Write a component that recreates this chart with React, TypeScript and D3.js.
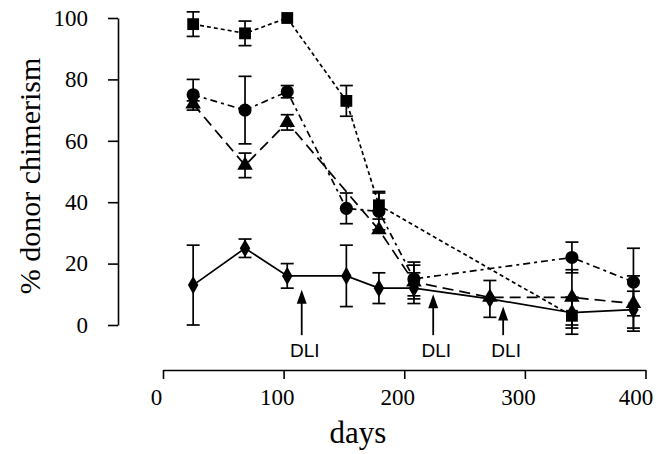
import React, { useRef, useEffect } from 'react';
import * as d3 from 'd3';

// days after transplant and % donor chimerism
const squareDays = [25, 68, 103, 152, 179, 339];
const squareVals = [98, 95, 100, 73, 39, 3];
const squareErr = [4, 4, 0, 5, 4.5, 6];

const circleDays = [25, 68, 103, 152, 179, 208, 339, 390];
const circleVals = [75, 70, 76, 38, 37, 15, 22, 14];
const circleErr = [5, 11, 2, 5, 6, 5.5, 5, 11];

const triangleDays = [25, 68, 103, 179, 208, 271, 339, 390];
const triangleVals = [72, 52, 66, 31, 14, 9, 9, 7];
const triangleErr = [1, 4, 2.5, 0, 5.5, 0, 9, 9];

const diamondDays = [25, 68, 103, 152, 179, 208, 271, 339, 390];
const diamondVals = [13, 25, 16, 16, 12, 12, 8.5, 4, 5];
const diamondErr = [13, 3, 4, 10, 5, 5, 6, 5, 6];

// DLI arrows: day, value at arrow tip
const dliDays = [115, 224, 282];
const dliTips = [11.5, 10, 6];

const xTicks = [0, 100, 200, 300, 400];
const yTicks = [0, 20, 40, 60, 80, 100];

const serif = '"Liberation Serif", "Times New Roman", serif';
const sans = '"Liberation Sans", Arial, sans-serif';

const App = () => {
  const svgRef = useRef<SVGSVGElement>(null);

  useEffect(() => {
    const width = 656;
    const height = 454;

    const svg = d3.select(svgRef.current)
      .attr('width', width)
      .attr('height', height);

    svg.selectAll('*').remove();

    const x = d3.scaleLinear().domain([0, 400]).range([163, 645.5]);
    const y = d3.scaleLinear().domain([0, 100]).range([325, 18]);

    // Y axis
    const yAxis = svg.append('g')
      .attr('transform', 'translate(118,0)')
      .call(d3.axisLeft(y).tickValues(yTicks).tickSize(10).tickSizeOuter(0).tickPadding(20));
    yAxis.selectAll('path, line').attr('stroke', '#000').attr('stroke-width', 1.6);
    yAxis.selectAll('text')
      .style('font-family', serif)
      .style('font-size', '23px')
      .attr('fill', '#000');

    // X axis
    const xAxis = svg.append('g')
      .attr('transform', 'translate(0,370)')
      .call(d3.axisBottom(x).tickValues(xTicks).tickSize(9).tickSizeOuter(0).tickPadding(10));
    xAxis.selectAll('path, line').attr('stroke', '#000').attr('stroke-width', 1.6);
    xAxis.selectAll('text')
      .attr('dx', (d: any) => (d === 400 ? -10 : -7))
      .style('font-family', serif)
      .style('font-size', '23px')
      .attr('fill', '#000');

    // axis titles
    svg.append('text')
      .attr('transform', 'translate(40,176) rotate(-90)')
      .attr('text-anchor', 'middle')
      .style('font-family', serif)
      .style('font-size', '30px')
      .text('% donor chimerism');

    svg.append('text')
      .attr('x', 358)
      .attr('y', 443)
      .attr('text-anchor', 'middle')
      .style('font-family', serif)
      .style('font-size', '31px')
      .text('days');

    const series = [
      { days: squareDays, vals: squareVals, err: squareErr, dash: '4,3', shape: d3.symbolSquare, size: 140 },
      { days: circleDays, vals: circleVals, err: circleErr, dash: '7,4,3,4', shape: d3.symbolCircle, size: 135 },
      { days: triangleDays, vals: triangleVals, err: triangleErr, dash: '11,6', shape: d3.symbolTriangle, size: 105 },
      { days: diamondDays, vals: diamondVals, err: diamondErr, dash: null, shape: d3.symbolDiamond, size: 95 },
    ];

    const line = d3.line<[number, number]>()
      .x(d => x(d[0]))
      .y(d => y(d[1]));

    // connecting lines
    series.forEach(s => {
      const pts = s.days.map((d, i) => [d, s.vals[i]] as [number, number]);
      svg.append('path')
        .attr('d', line(pts))
        .attr('fill', 'none')
        .attr('stroke', '#000')
        .attr('stroke-width', 1.7)
        .attr('stroke-dasharray', s.dash);
    });

    // error bars
    series.forEach(s => {
      s.days.forEach((d, i) => {
        const e = s.err[i];
        if (!e) return;
        const cx = x(d);
        const top = y(s.vals[i] + e);
        const bot = y(s.vals[i] - e);
        const g = svg.append('g').attr('stroke', '#000').attr('stroke-width', 1.7);
        g.append('line').attr('x1', cx).attr('x2', cx).attr('y1', top).attr('y2', bot);
        g.append('line').attr('x1', cx - 6.5).attr('x2', cx + 6.5).attr('y1', top).attr('y2', top);
        g.append('line').attr('x1', cx - 6.5).attr('x2', cx + 6.5).attr('y1', bot).attr('y2', bot);
      });
    });

    // markers
    series.forEach(s => {
      svg.append('g')
        .selectAll('path')
        .data(s.days.map((d, i) => [d, s.vals[i]]))
        .enter()
        .append('path')
        .attr('transform', d => `translate(${x(d[0])},${y(d[1])})`)
        .attr('d', d3.symbol().type(s.shape).size(s.size)())
        .attr('fill', '#000');
    });

    // DLI arrows
    const base = -3.3;
    dliDays.forEach((d, i) => {
      const ax = x(d);
      const tip = y(dliTips[i]);
      svg.append('line')
        .attr('x1', ax).attr('x2', ax)
        .attr('y1', tip + 10).attr('y2', y(base))
        .attr('stroke', '#000')
        .attr('stroke-width', 1.8);
      svg.append('path')
        .attr('d', `M${ax},${tip} L${ax - 5},${tip + 14} L${ax + 5},${tip + 14} Z`)
        .attr('fill', '#000');
      svg.append('text')
        .attr('x', ax + 3)
        .attr('y', 357)
        .attr('text-anchor', 'middle')
        .style('font-family', sans)
        .style('font-size', '19px')
        .text('DLI');
    });
  }, []);

  return (
    <svg ref={svgRef} style={{ position: 'absolute', left: 0, top: 0, background: '#fff' }}></svg>
  );
};

export default App;
